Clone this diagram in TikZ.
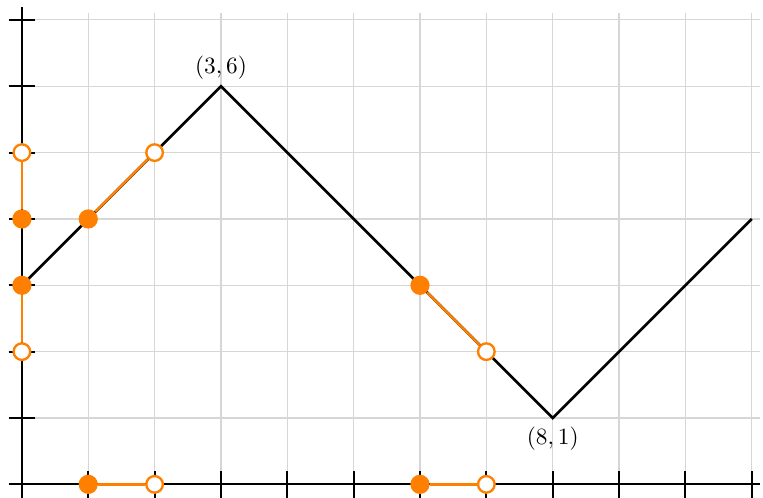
\documentclass[tikz,border=0pt]{standalone}
\usepackage{xcolor}
\usepackage{tikz}
\usepackage{amsmath,amssymb}
\usetikzlibrary{positioning}
\definecolor{Pick}{HTML}{FF8000}
\definecolor{Ink}{HTML}{000000}
\definecolor{Rule}{HTML}{D6D6D6}
\tikzset{
  fdot/.style={circle,fill=Pick,inner sep=0pt,minimum size=0.29cm},
  odot/.style={circle,draw=Pick,fill=white,line width=1pt,inner sep=0pt,minimum size=0.25cm},
  seg/.style={Pick,line width=1.05pt},
  curve/.style={Ink,line width=1.1pt},
  axis/.style={Ink,line width=0.8pt},
}

\begin{document}
\begin{tikzpicture}[x=1cm,y=1cm]
  \useasboundingbox (-0.33,-0.2) rectangle (11.17,7.3);
  \foreach \x in {1,...,11}
    \draw[Rule,line width=0.5pt] (\x,0) -- (\x,7.1);
  \foreach \y in {1,...,7}
    \draw[Rule,line width=0.5pt] (0,\y) -- (11.12,\y);
  \draw[axis] (-0.2,0) -- (11.12,0);
  \draw[axis] (0,-0.2) -- (0,7.2);
  \foreach \i in {1,...,11}
    \draw[axis] (\i,-0.2) -- (\i,0.2);
  \foreach \i in {1,...,7}
    \draw[axis] (-0.2,\i) -- (0.2,\i);
  % the function
  \coordinate (start) at (0,3);
  \coordinate (peak) at (3,6);
  \coordinate (dip) at (8,1);
  \coordinate (stop) at (11,4);
  \draw[curve] (start) -- (peak) -- (dip) -- (stop);
  \node[above=-0.5pt of peak] (peaklab) {$(3,6)$};
  \node[below=0.5pt of dip] (diplab) {$(8,1)$};
  % preimage and image
  \node[fdot] (g1) at (1,4) {};
  \node[odot] (g2) at (2,5) {};
  \node[fdot] (g3) at (6,3) {};
  \node[odot] (g4) at (7,2) {};
  \node[fdot] (x1) at (1,0) {};
  \node[odot] (x2) at (2,0) {};
  \node[fdot] (x3) at (6,0) {};
  \node[odot] (x4) at (7,0) {};
  \node[fdot] (y1) at (0,4) {};
  \node[odot] (y2) at (0,5) {};
  \node[fdot] (y3) at (0,3) {};
  \node[odot] (y4) at (0,2) {};
  \draw[seg] (g1) -- (g2);
  \draw[seg] (g3) -- (g4);
  \draw[seg] (x1) -- (x2);
  \draw[seg] (x3) -- (x4);
  \draw[seg] (y1) -- (y2);
  \draw[seg] (y3) -- (y4);
\end{tikzpicture}
\end{document}
